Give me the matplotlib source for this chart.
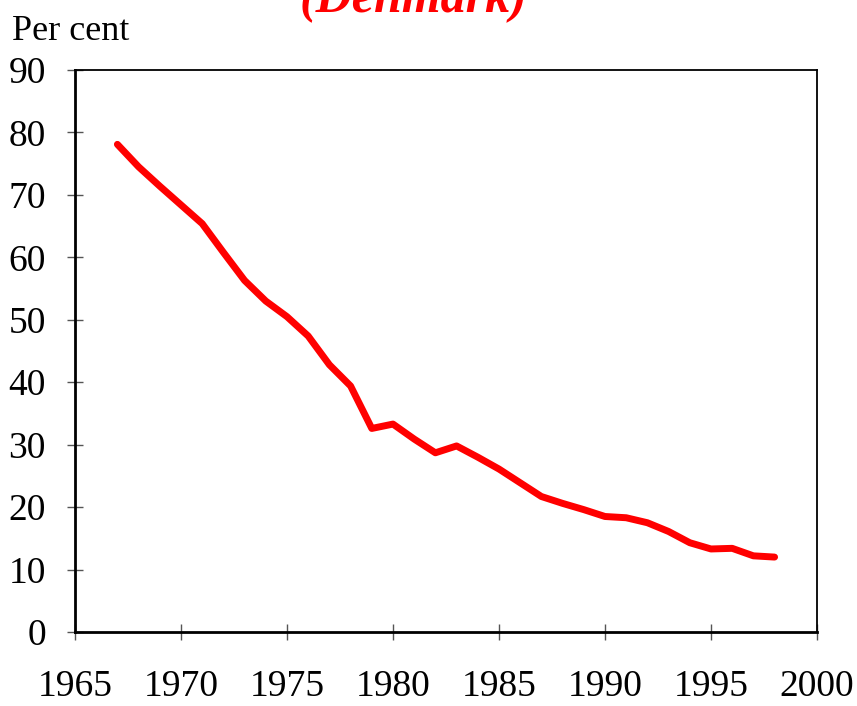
import matplotlib.pyplot as plt

# === Data ===
years = list(range(1967, 1999))
share = [78.1, 74.5, 71.4, 68.4, 65.4, 60.8, 56.3, 53.0, 50.5, 47.4,
         42.8, 39.4, 32.6, 33.3, 30.9, 28.7, 29.8, 28.0, 26.1, 23.9,
         21.7, 20.6, 19.6, 18.5, 18.3, 17.5, 16.1, 14.3, 13.3, 13.4,
         12.2, 12.0]
x_ticks = list(range(1965, 2001, 5))
y_ticks = list(range(0, 91, 10))

plt.rcParams['font.family'] = ['Liberation Serif', 'DejaVu Serif']

fig = plt.figure(figsize=(8.57, 7.06), dpi=100)
ax = fig.add_axes([0.0875, 0.1048, 0.8658, 0.796])

ax.plot(years, share, color='#ff0000', linewidth=5, solid_capstyle='round')

ax.set_xlim(1965, 2000)
ax.set_ylim(0, 90)
ax.set_xticks(x_ticks)
ax.set_yticks(y_ticks)
ax.tick_params(axis='x', direction='inout', length=12, width=1, color='#555555',
               labelsize=27, pad=21)
ax.tick_params(axis='y', direction='inout', length=12, width=1, color='#555555',
               labelsize=27, pad=15)

for side in ['left', 'bottom']:
    ax.spines[side].set_linewidth(2)
for side in ['top', 'right']:
    ax.spines[side].set_linewidth(1.3)

fig.text(12 / 857, 1 - 31 / 706, "Per cent", fontsize=26, va='center', ha='left')
fig.text(413 / 857, 1 - 12 / 706, "(Denmark)", fontsize=36, color='#ff0000',
         fontweight='bold', fontstyle='italic', ha='center', va='baseline')

fig.savefig("out.png", dpi=100)
